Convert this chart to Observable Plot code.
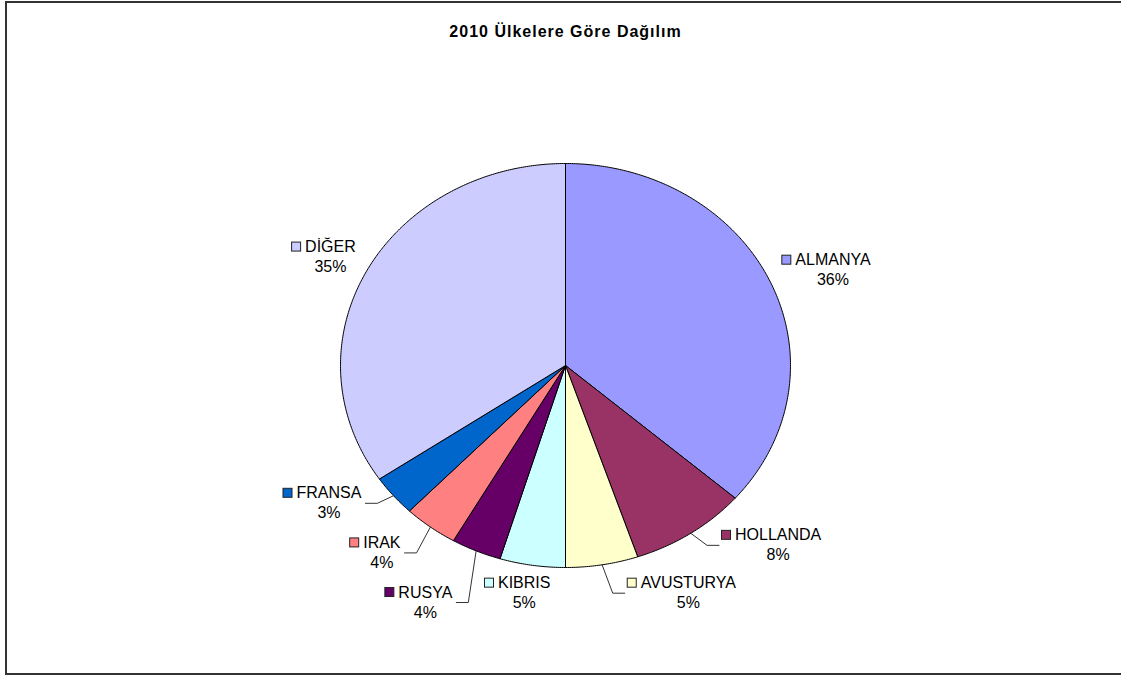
<!DOCTYPE html>
<html>
<head>
<meta charset="utf-8">
<script src="https://cdn.jsdelivr.net/npm/d3@7"></script>
<script src="https://cdn.jsdelivr.net/npm/@observablehq/plot@0.6"></script>
<style>
  html, body { margin: 0; padding: 0; background: #fff; overflow: hidden; }
  #wrap { position: relative; width: 1121px; height: 675px; }
  #border { position: absolute; left: 5px; top: 1px; width: 1130px; height: 670px;
            border: 2px solid #333; border-right: none; pointer-events: none; }
  #chart { position: absolute; left: 0; top: 0; }
</style>
</head>
<body>
<div id="wrap"><div id="chart"></div><div id="border"></div></div>
<script>
// ---- data ----
const title = "2010 Ülkelere Göre Dağılım";
const names = ["ALMANYA", "HOLLANDA", "AVUSTURYA", "KIBRIS", "RUSYA", "IRAK", "FRANSA", "DİĞER"];
const shares = [36.4, 8.4, 5.2, 4.7, 3.6, 3.9, 3.3, 34.5];
const colors = ["#9999FF", "#993366", "#FFFFCC", "#CCFFFF", "#660066", "#FF8080", "#0066CC", "#CCCCFF"];

// ---- layout (not data) ----
const W = 1121, H = 675;
const PIE = {left: 340, right: 790, top: 163, bottom: 567};
const kx = 2 / (PIE.right - PIE.left);   // data units per pixel (x)
const ky = 2 / (PIE.bottom - PIE.top);   // data units per pixel (y)
const FONT = "'Liberation Sans', Arial, sans-serif";
const FS = 16;
// label placement: angular shift from slice middle (deg) and radius (in pie radii)
const labelLayout = {
  "ALMANYA":   {shift: 0.8,   r: 1.298, leader: false},
  "HOLLANDA":  {shift: -14.5, r: 1.265, leader: true},
  "AVUSTURYA": {shift: -17.5, r: 1.208, leader: true},
  "KIBRIS":    {shift: 1.2,   r: 1.093, leader: false},
  "RUSYA":     {shift: 5.6,   r: 1.285, leader: true},
  "IRAK":      {shift: 6.0,   r: 1.199, leader: true},
  "FRANSA":    {shift: 9.1,   r: 1.227, leader: true},
  "DİĞER":     {shift: 1.4,   r: 1.198, leader: false}
};

const rows = names.map((name, i) => ({name, share: shares[i]}));
const total = d3.sum(shares);
const arcs = d3.pie().sort(null).value(d => d.share)(rows);

// slice outlines in unit-circle coordinates (scales stretch to the ellipse)
const slicePts = arcs.flatMap(a => {
  const name = a.data.name;
  const n = Math.max(2, Math.ceil((a.endAngle - a.startAngle) / (Math.PI / 360)));
  const pts = [{name, x: 0, y: 0}];
  for (let i = 0; i <= n; i++) {
    const t = a.startAngle + (a.endAngle - a.startAngle) * i / n;
    pts.push({name, x: Math.sin(t), y: Math.cos(t)});
  }
  pts.push({name, x: 0, y: 0});
  return pts;
});

// text measurement
const ctx = document.createElement("canvas").getContext("2d");
ctx.font = `${FS}px ${FONT}`;

const labels = arcs.map(a => {
  const name = a.data.name;
  const L = labelLayout[name];
  const mid = (a.startAngle + a.endAngle) / 2;
  const th = mid + L.shift * Math.PI / 180;
  const x = L.r * Math.sin(th), y = L.r * Math.cos(th);
  const w = ctx.measureText(name).width;
  const sxc = x - (w / 2 + 4 + 4.5) * kx;
  return {
    name, x, y, w, mid, leader: L.leader,
    pct: Math.round(a.data.share / total * 100) + "%",
    sx1: sxc - 4.5 * kx, sx2: sxc + 4.5 * kx,
    sy1: y - 4.5 * ky, sy2: y + 4.5 * ky
  };
});

const leaderPts = labels.filter(d => d.leader).flatMap(d => {
  const left = d.x < 0;
  const ly = d.y - 10 * ky;
  const endX = left ? d.x + (d.w / 2 + 4) * kx : d.sx1 - 3 * kx;
  const elbowX = left ? endX + 12 * kx : endX - 12 * kx;
  return [
    {name: d.name, x: Math.sin(d.mid), y: Math.cos(d.mid)},
    {name: d.name, x: elbowX, y: ly},
    {name: d.name, x: endX, y: ly}
  ];
});

const chart = Plot.plot({
  width: W, height: H,
  margin: 0,
  style: {fontFamily: FONT, background: "transparent"},
  x: {domain: [-1, 1], range: [PIE.left, PIE.right], axis: null},
  y: {domain: [-1, 1], range: [PIE.bottom, PIE.top], axis: null},
  color: {domain: names, range: colors},
  marks: [
    Plot.line(slicePts, {x: "x", y: "y", z: "name", fill: "name", stroke: "#000", strokeWidth: 1, strokeLinejoin: "round"}),
    Plot.line(leaderPts, {x: "x", y: "y", z: "name", stroke: "#333", strokeWidth: 1}),
    Plot.rect(labels, {x1: "sx1", x2: "sx2", y1: "sy1", y2: "sy2", fill: "name", stroke: "#222", strokeWidth: 1}),
    Plot.text(labels, {x: "x", y: "y", text: "name", fontSize: FS, fill: "#000", textAnchor: "middle", lineAnchor: "middle"}),
    Plot.text(labels, {x: "x", y: "y", text: "pct", fontSize: FS, fill: "#000", textAnchor: "middle", lineAnchor: "middle", dy: 20}),
    Plot.text([title], {frameAnchor: "top", text: d => d, dx: 4.5, dy: 31, fontSize: 16, fontWeight: "bold", fill: "#000", lineAnchor: "middle"})
  ]
});
d3.select(chart).selectAll("text").filter(function() { return this.textContent === title; })
  .attr("letter-spacing", "1px");
document.getElementById("chart").appendChild(chart);
</script>
</body>
</html>
